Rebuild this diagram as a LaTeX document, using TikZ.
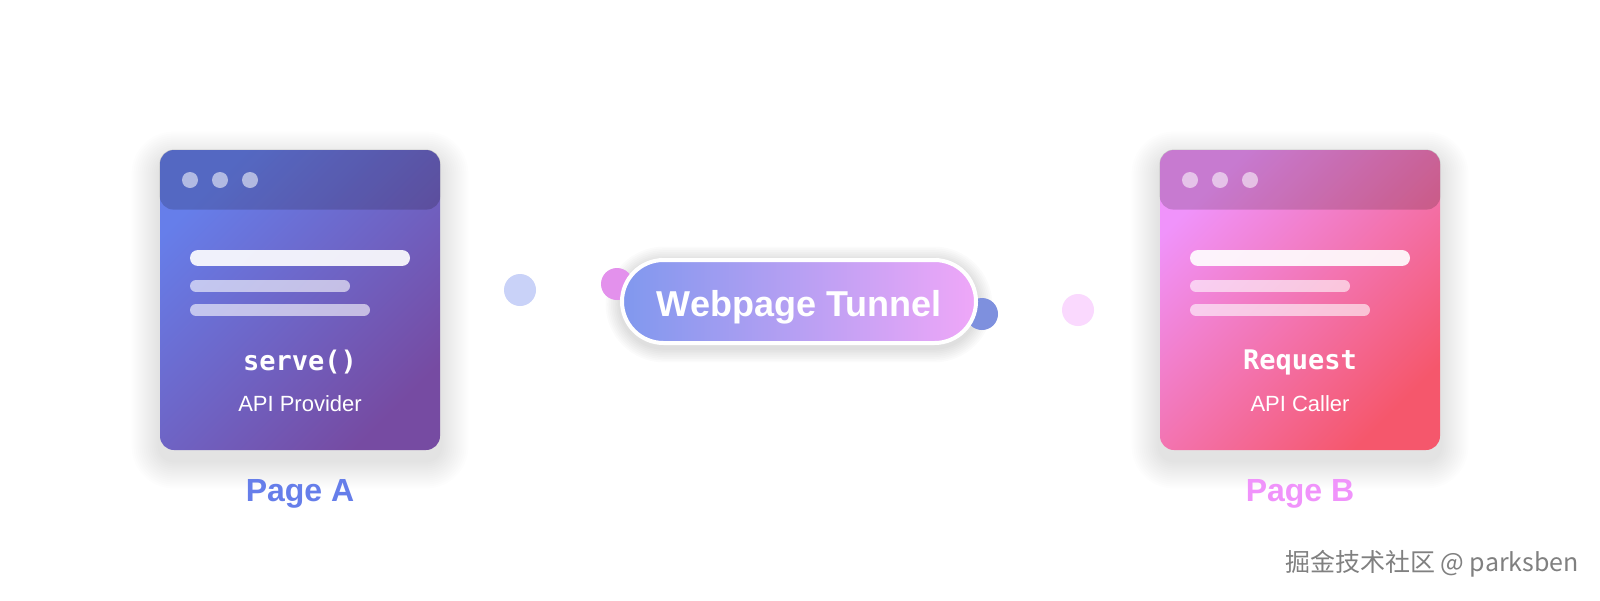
\documentclass[tikz,border=0pt]{standalone}
\usepackage{fontspec}
\setmainfont{Liberation Sans}
\newfontfamily\codefont{DejaVu Sans Mono}
\newfontfamily\cjkfont{Noto Sans CJK SC}
\usetikzlibrary{backgrounds}
\definecolor{aStart}{HTML}{667EEA}
\definecolor{aEnd}{HTML}{764BA2}
\definecolor{bStart}{HTML}{F093FB}
\definecolor{bEnd}{HTML}{F5576C}
\definecolor{pillL}{HTML}{8098EE}
\definecolor{pillR}{HTML}{EFA7F8}
\definecolor{dotPink}{HTML}{E391EC}
\definecolor{dotBlue}{HTML}{7E90DE}
\definecolor{wm}{HTML}{808080}
\tikzset{
  card/.style={minimum width=140pt, minimum height=150pt, rounded corners=7pt, inner sep=0pt},
  cardA/.style={card, top color=aStart, bottom color=aEnd, shading angle=45},
  cardB/.style={card, top color=bStart, bottom color=bEnd, shading angle=45},
  header/.style={fill=black, fill opacity=0.17, rounded corners=7pt},
  hdot/.style={fill=white, fill opacity=0.55},
  bar/.style={white, line cap=round},
  codetxt/.style={text=white, font=\codefont\bfseries\fontsize{13.5pt}{15pt}\selectfont},
  roletxt/.style={text=white, font=\fontsize{11pt}{13pt}\selectfont},
  pagetxt/.style={font=\bfseries\fontsize{16pt}{18pt}\selectfont},
  pill/.style={minimum width=177pt, minimum height=41.5pt, rounded corners=20.75pt,
    draw=white, line width=2pt, left color=pillL, right color=pillR, inner sep=0pt,
    text height=14.9pt, text depth=0pt,
    text=white, font=\bfseries\fontsize{18pt}{20pt}\selectfont},
  softshadow/.style={fill=black, fill opacity=0.009},
}
\begin{document}
\begin{tikzpicture}[x=0.5pt,y=0.5pt]
\useasboundingbox (0,0) rectangle (1600,-600);

% ---------- Card A ----------
\node[cardA] (cardA) at (300,-300) {};
\fill[header] (cardA.north west) rectangle ([yshift=-30pt]cardA.north east);
\foreach \dx in {190,220,250} \fill[hdot] (\dx,-180) circle[radius=8];
\draw[bar, line width=8pt, opacity=0.9] (198,-258) -- (402,-258);
\draw[bar, line width=6pt, opacity=0.6] (196,-286) -- (344,-286);
\draw[bar, line width=6pt, opacity=0.6] (196,-310) -- (364,-310);
\node[codetxt] (codeA) at (300,-362) {serve()};
\node[roletxt] (roleA) at (300,-404) {API Provider};
\node[pagetxt, text=aStart] (pageA) at (300,-494) {Page A};

% ---------- Card B ----------
\node[cardB] (cardB) at (1300,-300) {};
\fill[header] (cardB.north west) rectangle ([yshift=-30pt]cardB.north east);
\foreach \dx in {1190,1220,1250} \fill[hdot] (\dx,-180) circle[radius=8];
\draw[bar, line width=8pt, opacity=0.9] (1198,-258) -- (1402,-258);
\draw[bar, line width=6pt, opacity=0.6] (1196,-286) -- (1344,-286);
\draw[bar, line width=6pt, opacity=0.6] (1196,-310) -- (1364,-310);
\node[codetxt] (codeB) at (1300,-362) {Request};
\node[roletxt] (roleB) at (1300,-404) {API Caller};
\node[pagetxt, text=bStart] (pageB) at (1300,-494) {Page B};

% ---------- floating dots ----------
\fill[aStart!35] (520,-290) circle[radius=16];
\fill[dotPink] (617,-284) circle[radius=16];
\fill[dotBlue] (982,-314) circle[radius=16];
\fill[bStart!35] (1078,-310) circle[radius=16];

% ---------- Tunnel pill ----------
\node[pill] (tunnel) at (799,-301.5) {Webpage Tunnel};

% ---------- watermark ----------
\node[text=wm, font=\cjkfont\fontsize{12.5pt}{14pt}\selectfont] (wm) at (1432,-564) {掘金技术社区 @ parksben};

% ---------- background and soft shadows ----------
\begin{pgfonlayer}{background}
\fill[white] (0,0) rectangle (1600,-600);
\foreach \c in {cardA,cardB}{
  \foreach \i in {1,...,14}{
    \pgfmathsetmacro{\s}{2*\i}
    \pgfmathsetmacro{\r}{7+\i}
    \fill[softshadow, rounded corners=\r pt]
      ([shift={(-\s,-10+\s)}]\c.north west) rectangle ([shift={(\s,-10-\s)}]\c.south east);
  }
}
\foreach \i in {1,...,8}{
  \pgfmathsetmacro{\s}{1.8*\i}
  \pgfmathsetmacro{\r}{22+0.9*\i}
  \fill[fill=black, fill opacity=0.016, rounded corners=\r pt]
    ([shift={(-\s,-3+\s)}]tunnel.north west) rectangle ([shift={(\s,-3-\s)}]tunnel.south east);
}
\end{pgfonlayer}
\end{tikzpicture}
\end{document}
